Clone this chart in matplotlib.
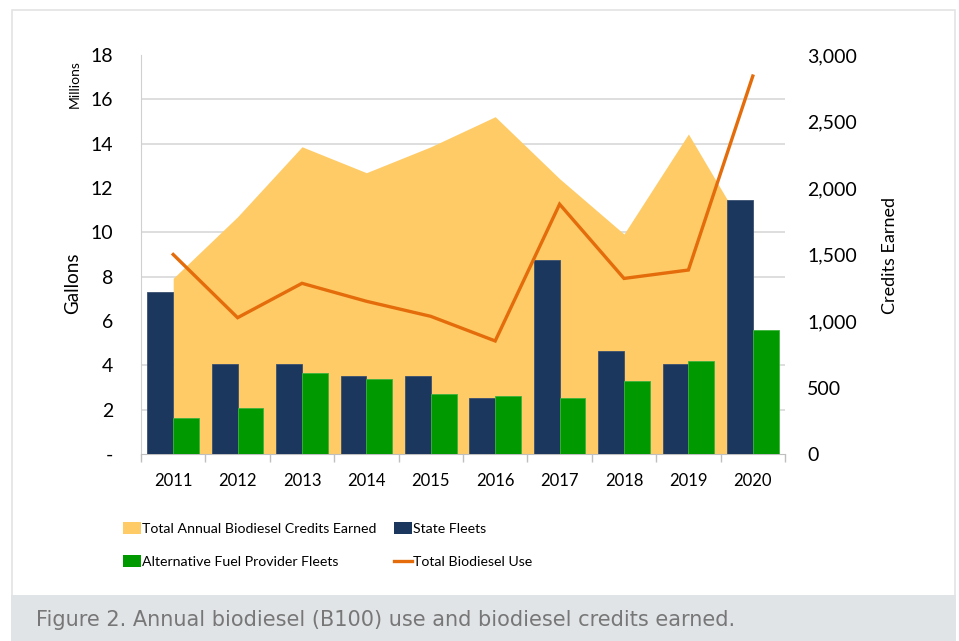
import matplotlib
matplotlib.use("Agg")
import matplotlib.pyplot as plt
from matplotlib.patches import Rectangle
from matplotlib.lines import Line2D
from matplotlib.ticker import MultipleLocator

# ----------------------------- DATA -----------------------------
years = ["2011", "2012", "2013", "2014", "2015", "2016", "2017", "2018", "2019", "2020"]
state_fleets = [7.32, 4.05, 4.05, 3.52, 3.52, 2.51, 8.75, 4.65, 4.07, 11.44]        # millions of gallons
afp_fleets = [1.64, 2.06, 3.64, 3.37, 2.69, 2.60, 2.51, 3.29, 4.19, 5.58]           # millions of gallons
total_use = [9.0, 6.15, 7.70, 6.89, 6.21, 5.10, 11.27, 7.92, 8.30, 17.05]           # millions of gallons
credits_earned = [1321, 1784, 2310, 2115, 2310, 2536, 2070, 1654, 2406, 1588]      # credits

left_ticks = [0, 2, 4, 6, 8, 10, 12, 14, 16, 18]
left_labels = ["-", "2", "4", "6", "8", "10", "12", "14", "16", "18"]
right_ticks = [0, 500, 1000, 1500, 2000, 2500, 3000]
right_labels = ["0", "500", "1,000", "1,500", "2,000", "2,500", "3,000"]

# ----------------------------- STYLE -----------------------------
NAVY = "#1B375E"
GREEN = "#009A00"
ORANGE = "#E46C0A"
GOLD = "#FECB67"
GRID = "#D4D4D4"
FONT = ["Lato", "DejaVu Sans"]

plt.rcParams["font.family"] = FONT

W, H = 959, 641
fig = plt.figure(figsize=(W / 100, H / 100), dpi=100)


def fx(px):
    return px / W


def fy(py):
    return 1 - py / H


# outer frame and caption band
fig.add_artist(Rectangle((fx(12), 0), 943 / W, 631 / H, transform=fig.transFigure,
                         facecolor="white", edgecolor="#E3E3E3", linewidth=1.2, zorder=0))
fig.add_artist(Rectangle((fx(11), 0), 945 / W, 46 / H, transform=fig.transFigure,
                         facecolor="#E1E4E7", edgecolor="none", zorder=1))
fig.text(fx(36), fy(620), "Figure 2. Annual biodiesel (B100) use and biodiesel credits earned.",
         color="#777777", fontsize=15, va="center", ha="left", family=["DejaVu Sans"])

# ----------------------------- AXES -----------------------------
left, right, top, bottom = 141, 785, 55, 454
ax = fig.add_axes([fx(left), fy(bottom), (right - left) / W, (bottom - top) / H])  # gallons
ax2 = ax.twinx()                                                                 # credits
ax.set_zorder(ax2.get_zorder() + 1)
ax.patch.set_visible(False)
ax2.patch.set_visible(True)
ax2.patch.set_facecolor("white")

x = list(range(len(years)))

# area on the credits axis, gridlines kept below it
ax2.fill_between(x, 0, credits_earned, color=GOLD, linewidth=0, zorder=2)
ax2.set_ylim(0, 3000)
ax2.set_yticks(right_ticks)
ax2.set_yticklabels(right_labels)
ax2.yaxis.set_minor_locator(MultipleLocator(3000 / 9))
ax2.grid(which="minor", axis="y", color=GRID, linewidth=1.1)
ax2.set_axisbelow(True)
ax2.tick_params(axis="y", which="both", length=0, labelsize=14, pad=16)

# bars and total line on the gallons axis
bw = 0.4
ax.bar([i - bw / 2 for i in x], state_fleets, width=bw, color=NAVY,
       edgecolor="#3A5070", linewidth=0.6, zorder=3)
ax.bar([i + bw / 2 for i in x], afp_fleets, width=bw, color=GREEN,
       edgecolor="#3DB33D", linewidth=0.6, zorder=3)
ax.plot(x, total_use, color=ORANGE, linewidth=2.4, zorder=4, solid_joinstyle="miter")

ax.set_xlim(-0.5, len(years) - 0.5)
ax.set_ylim(0, 18)
ax.set_yticks(left_ticks)
ax.set_yticklabels(left_labels)
ax.tick_params(axis="y", length=0, labelsize=14, pad=20)

# axis titles
fig.text(fx(73), fy(283), "Gallons", rotation=90, fontsize=13.5, ha="center", va="center")
fig.text(fx(75), fy(84), "Millions", rotation=90, fontsize=10, ha="center", va="center")
fig.text(fx(890), fy(255), "Credits Earned", rotation=90, fontsize=13, ha="center", va="center")

# x axis: ticks on category borders, labels at centers
ax.set_xticks([i - 0.5 for i in range(len(years) + 1)])
ax.set_xticklabels([])
ax.set_xticks(x, minor=True)
ax.set_xticklabels(years, minor=True)
ax.tick_params(axis="x", which="major", length=6, color="#BFBFBF", width=1)
ax.tick_params(axis="x", which="minor", length=0, labelsize=12, pad=13.5)

for a in (ax, ax2):
    for s in ("top", "right", "left", "bottom"):
        a.spines[s].set_visible(False)
ax.spines["left"].set_visible(True)
ax.spines["left"].set_color("#D0D0D0")
ax.spines["bottom"].set_visible(True)
ax.spines["bottom"].set_color("#BFBFBF")

# ----------------------------- LEGEND -----------------------------
legend_items = [
    ("patch", GOLD, "Total Annual Biodiesel Credits Earned", 123, 528),
    ("patch", NAVY, "State Fleets", 394, 528),
    ("patch", GREEN, "Alternative Fuel Provider Fleets", 123, 561),
    ("line", ORANGE, "Total Biodiesel Use", 394, 561),
]
for kind, color, label, px, py in legend_items:
    if kind == "patch":
        fig.add_artist(Rectangle((fx(px), fy(py + 6)), 18 / W, 12 / H,
                                 transform=fig.transFigure, facecolor=color, edgecolor="none"))
    else:
        fig.add_artist(Line2D([fx(px), fx(px + 18)], [fy(py), fy(py)],
                              transform=fig.transFigure, color=color, linewidth=2.4))
    fig.text(fx(px + 19), fy(py), label, fontsize=10.2, ha="left", va="center_baseline")

fig.savefig("out.png", dpi=100)
